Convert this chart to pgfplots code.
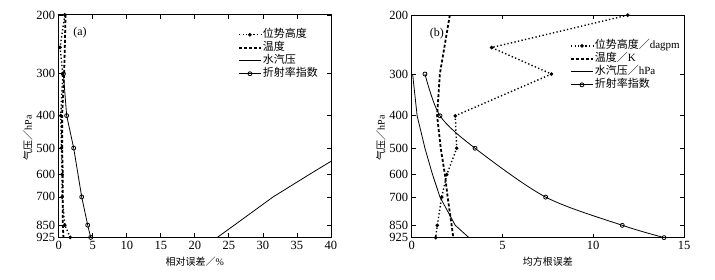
\documentclass[border=0pt]{standalone}
\usepackage{pgfplots}
\pgfplotsset{compat=1.18}
\usepackage{fontspec}
\setmainfont{Liberation Serif}
\newfontfamily\cjk{Noto Sans CJK SC}

\tikzset{
  geo/.style={black, line width=1.4pt, dash pattern=on 1.3pt off 2.3pt, mark=*, mark size=1pt, mark options={solid}},
  tem/.style={black, line width=1.8pt, dash pattern=on 3pt off 2pt},
  vap/.style={black, line width=0.8pt},
  ref/.style={black, line width=0.8pt, mark=o, mark size=2pt, mark options={solid, fill=white}},
}
\pgfplotsset{
  every axis/.append style={
    scale only axis, width=272.3pt, height=222.5pt,
    tick align=inside, tick pos=both, major tick length=4pt,
    axis line style={line width=0.9pt},
    tick style={line width=0.8pt, black},
    tick label style={font=\fontsize{12.5}{13}\selectfont},
    legend cell align=left,
    xlabel style={font=\fontsize{10}{11}\selectfont},
    ylabel style={font=\fontsize{10}{11}\selectfont},
  },
  legend image code/.code={\draw[mark repeat=2,mark phase=2,#1] plot coordinates {(0pt,0pt) (11pt,0pt) (22pt,0pt)};},
}

\begin{document}
\begin{tikzpicture}
\path[use as bounding box] (0pt,0pt) rectangle (715pt,280pt);

\begin{axis}[at={(58.7pt,42.6pt)}, anchor=south west,
  ymode=log, y dir=reverse, ymin=200, ymax=925,
  ytick={200,300,400,500,600,700,850,925},
  yticklabels={200,300,400,500,600,700,850,925},
  yminorticks=false,
  xmin=0, xmax=40, xtick={0,5,...,40},
  /pgf/number format/assume math mode=true,
  xlabel={{\cjk 相对误差／}\%}, ylabel={{\cjk 气压／}hPa},
  xlabel style={at={(axis description cs:0.5,-0.11)}, anchor=center},
  ylabel style={at={(axis description cs:-0.113,0.449)}, anchor=center},
  legend style={at={(0.967,0.950)}, anchor=north east, draw=none, fill=none,
    font=\fontsize{11}{12}\selectfont, row sep=0pt,
    nodes={inner sep=1pt, text height=8.5pt, text depth=2.5pt}}]
\addplot[geo] coordinates {(0.9,200) (0.2,250) (0.6,300) (0.3,400) (0.4,500) (0.5,600) (0.5,700) (0.9,850) (1.7,925)};
\addplot[tem] coordinates {(1.0,200) (0.9,250) (0.8,300) (0.5,400) (0.5,500) (0.6,600) (0.6,700) (0.6,850) (0.7,925)};
\addplot[vap] coordinates {(23.3,925) (25.8,850) (31.5,700) (36.8,600) (43.2,500)};
\addplot[ref] coordinates {(0.69,300) (1.17,400) (2.2,500) (3.38,700) (4.26,850) (4.7,925)};
\legend{{\cjk 位势高度},{\cjk 温度},{\cjk 水汽压},{\cjk 折射率指数}}
\node[font=\fontsize{12}{13}\selectfont] at (axis description cs:0.078,0.919) {(a)};
\end{axis}

\begin{axis}[at={(411.7pt,42.4pt)}, anchor=south west,
  ymode=log, y dir=reverse, ymin=200, ymax=925,
  ytick={200,300,400,500,600,700,850,925},
  yticklabels={200,300,400,500,600,700,850,925},
  yminorticks=false,
  xmin=0, xmax=15, xtick={0,5,10,15},
  /pgf/number format/assume math mode=true,
  xlabel={\cjk 均方根误差}, ylabel={{\cjk 气压／}hPa},
  xlabel style={at={(axis description cs:0.5,-0.11)}, anchor=center},
  ylabel style={at={(axis description cs:-0.113,0.449)}, anchor=center},
  legend style={at={(1.0,0.901)}, anchor=north east, draw=none, fill=none,
    font=\fontsize{11}{12}\selectfont, row sep=0pt,
    nodes={inner sep=1pt, text height=8.5pt, text depth=2.5pt}}]
\addplot[geo] coordinates {(11.9,200) (4.4,250) (7.7,300) (2.4,400) (2.48,500) (1.93,600) (1.65,700) (1.41,850) (1.32,925)};
\addplot[tem] coordinates {(2.1,200) (1.55,300) (1.4,400) (1.6,500) (1.83,600) (1.98,700) (2.2,850) (2.29,925)};
\addplot[vap] coordinates {(0.05,300) (0.3,400) (0.73,500) (1.15,600) (1.56,700) (2.4,850) (3.15,925)};
\addplot[ref, smooth] coordinates {(0.73,300) (1.56,400) (3.49,500) (7.38,700) (11.6,850) (13.9,925)};
\legend{{\cjk 位势高度／}dagpm,{\cjk 温度／}K,{\cjk 水汽压／}hPa,{\cjk 折射率指数}}
\node[font=\fontsize{12}{13}\selectfont] at (axis description cs:0.092,0.919) {(b)};
\end{axis}
\end{tikzpicture}
\end{document}
